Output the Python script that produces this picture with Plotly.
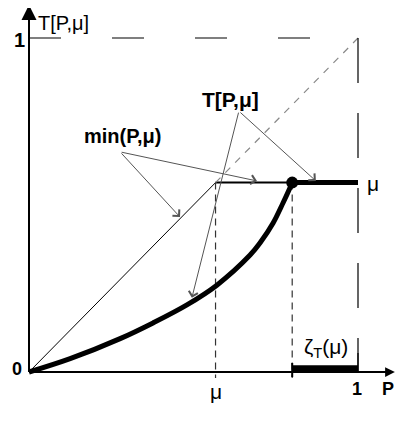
import plotly.graph_objects as go

# values
mu = 0.567
p_star = 0.80  # where T[P, mu] reaches mu
curve_p = [0.0, 0.125, 0.277, 0.377, 0.480, 0.571, 0.672, 0.702, 0.742, 0.772, 0.793, 0.80]
curve_t = [0.0, 0.040, 0.100, 0.147, 0.201, 0.260, 0.350, 0.386, 0.446, 0.506, 0.551, 0.567]

FONT = "Liberation Sans, Arial, sans-serif"

fig = go.Figure()

# min(P, mu): thin diagonal then horizontal
fig.add_trace(go.Scatter(x=[0, mu], y=[0, mu], mode="lines",
                         line=dict(color="black", width=1)))
fig.add_trace(go.Scatter(x=[mu, p_star], y=[mu, mu], mode="lines",
                         line=dict(color="black", width=2)))

# diagonal P -> 1 (dashed grey)
fig.add_trace(go.Scatter(x=[mu, 1], y=[mu, 1], mode="lines",
                         line=dict(color="#888888", width=1.2, dash="7px,7px")))

# unit square border (long dashes)
fig.add_trace(go.Scatter(x=[0, 1], y=[1, 1], mode="lines",
                         line=dict(color="black", width=1.2, dash="32px,51px")))
fig.add_trace(go.Scatter(x=[1, 1], y=[1, 0], mode="lines",
                         line=dict(color="black", width=1.2, dash="45px,30px")))

# vertical dashed guides
for px in [mu, p_star]:
    fig.add_trace(go.Scatter(x=[px, px], y=[mu, -0.018], mode="lines",
                             line=dict(color="#333333", width=1.2, dash="7px,5px")))

# T[P, mu] curve
fig.add_trace(go.Scatter(x=curve_p, y=curve_t, mode="lines",
                         line=dict(color="black", width=5, shape="spline", smoothing=1.0)))
fig.add_trace(go.Scatter(x=[p_star, 1], y=[mu, mu], mode="lines",
                         line=dict(color="black", width=5)))
fig.add_trace(go.Scatter(x=[p_star], y=[mu], mode="markers",
                         marker=dict(color="black", size=12)))

# zeta_T(mu) segment on P axis
fig.add_trace(go.Scatter(x=[p_star, 1], y=[0.01, 0.01], mode="lines",
                         line=dict(color="black", width=7)))
fig.add_trace(go.Scatter(x=[1, 1], y=[0, 0.057], mode="lines",
                         line=dict(color="black", width=1.2)))
fig.add_trace(go.Scatter(x=[p_star, p_star], y=[-0.015, 0.027], mode="lines",
                         line=dict(color="black", width=2)))

# axes with arrows
fig.add_trace(go.Scatter(x=[0, 1.09], y=[0, 0], mode="lines",
                         line=dict(color="black", width=2)))
fig.add_trace(go.Scatter(x=[0, 0], y=[0, 1.07], mode="lines",
                         line=dict(color="black", width=2)))

annotations = [
    dict(x=1.112, y=0, ax=1.05, ay=0, showarrow=True, arrowhead=2,
         arrowsize=1.3, arrowwidth=1.5, arrowcolor="black"),
    dict(x=0, y=1.099, ax=0, ay=1.03, showarrow=True, arrowhead=2,
         arrowsize=1.5, arrowwidth=2, arrowcolor="black"),
    # pointer arrows
    dict(x=0.459, y=0.464, ax=0.277, ay=0.659, showarrow=True, arrowhead=4,
         arrowsize=1.8, arrowwidth=1, arrowcolor="#555555"),
    dict(x=0.693, y=0.572, ax=0.277, ay=0.659, showarrow=True, arrowhead=4,
         arrowsize=1.8, arrowwidth=1, arrowcolor="#555555"),
    dict(x=0.872, y=0.572, ax=0.638, ay=0.781, showarrow=True, arrowhead=4,
         arrowsize=1.8, arrowwidth=1, arrowcolor="#555555"),
    dict(x=0.495, y=0.222, ax=0.638, ay=0.781, showarrow=True, arrowhead=4,
         arrowsize=1.8, arrowwidth=1, arrowcolor="#555555"),
]
for a in annotations:
    a.update(axref="x", ayref="y", xref="x", yref="y", standoff=0, text="")

labels = [
    (0.105, 1.046, "T[P,μ]", 20),
    (-0.030, 0.994, "<b>1</b>", 20),
    (-0.036, 0.009, "<b>0</b>", 18),
    (0.283, 0.707, "<b>min(P,μ)</b>", 20),
    (0.611, 0.817, "<b>T[P,μ]</b>", 21),
    (1.046, 0.563, "μ", 21),
    (mu, -0.057, "μ", 21),
    (0.997, -0.051, "<b>1</b>", 18),
    (1.091, -0.051, "<b>P</b>", 18),
    (0.903, 0.072, "ζ<sub>T</sub>(μ)", 21),
]
for x, y, t, s in labels:
    annotations.append(dict(x=x, y=y, xref="x", yref="y", text=t, showarrow=False,
                            font=dict(family=FONT, size=s, color="black")))

# page body margin shifts the figure by 8px, so offset the ranges
off = 8
fig.update_layout(
    width=415, height=436, autosize=False,
    margin=dict(l=0, r=0, t=0, b=0),
    paper_bgcolor="white", plot_bgcolor="white",
    showlegend=False,
    annotations=annotations,
    xaxis=dict(range=[-(29 - off) / 329, (415 - 29 + off) / 329], visible=False, fixedrange=True),
    yaxis=dict(range=[-(436 - 372 + off) / 334, (372 - off) / 334], visible=False, fixedrange=True),
)

fig.write_html("out.html")
